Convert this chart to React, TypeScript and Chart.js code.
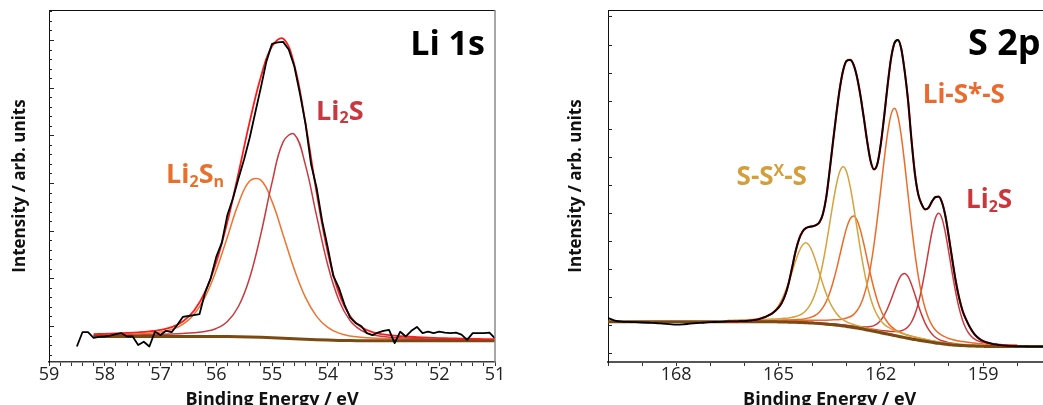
import React, { useEffect, useRef } from 'react';
import { Chart, registerables } from 'chart.js';

Chart.register(...registerables);

const FONT = "'Open Sans', 'DejaVu Sans', sans-serif";

// ---------------- Li 1s ----------------
const liRawEnergy = [
  58.5, 58.4, 58.3, 58.2, 58.1, 58.0, 57.9, 57.8, 57.7, 57.6,
  57.5, 57.4, 57.3, 57.2, 57.1, 57.0, 56.9, 56.8, 56.7, 56.6,
  56.5, 56.4, 56.3, 56.2, 56.1, 56.0, 55.9, 55.8, 55.7, 55.6,
  55.5, 55.4, 55.3, 55.2, 55.1, 55.0, 54.9, 54.8, 54.7, 54.6,
  54.5, 54.4, 54.3, 54.2, 54.1, 54.0, 53.9, 53.8, 53.7, 53.6,
  53.5, 53.4, 53.3, 53.2, 53.1, 53.0, 52.9, 52.8, 52.7, 52.6,
  52.5, 52.4, 52.3, 52.2, 52.1, 52.0, 51.9, 51.8, 51.7, 51.6,
  51.5, 51.4, 51.3, 51.2, 51.1, 51.0,
];
const liRaw = [
  -0.43, -0.13, -0.13, -0.25, -0.23, -0.22, -0.20, -0.17, -0.15, -0.22,
  -0.22, -0.40, -0.33, -0.43, -0.12, -0.19, -0.10, -0.13, 0.02, 0.19,
  0.21, 0.23, 0.25, 0.70, 1.00, 1.45, 1.75, 2.33, 2.68, 3.10,
  3.50, 3.95, 4.48, 5.00, 5.55, 5.92, 5.95, 5.96, 5.80, 5.45,
  4.88, 4.25, 3.40, 2.90, 2.20, 1.65, 1.05, 0.80, 0.45, 0.18,
  0.06, 0.00, -0.15, -0.19, -0.14, -0.10, -0.08, -0.36, -0.12, -0.22,
  -0.10, -0.02, -0.15, -0.12, -0.15, -0.12, -0.14, -0.15, -0.14, -0.18,
  -0.29, -0.15, -0.15, -0.15, -0.14, -0.26,
];
const liFitEnergy = [
  58.2, 58.0, 57.8, 57.6, 57.4, 57.2, 57.0, 56.8, 56.6, 56.4,
  56.2, 56.0, 55.8, 55.6, 55.4, 55.2, 55.0, 54.8, 54.6, 54.4,
  54.2, 54.0, 53.8, 53.6, 53.4, 53.2, 53.0, 52.8, 52.6, 52.4,
  52.2, 52.0, 51.8, 51.6, 51.4, 51.2, 51.0,
];
const liBackground = [
  -0.22, -0.22, -0.22, -0.22, -0.22, -0.22, -0.22, -0.22, -0.22, -0.22,
  -0.22, -0.22, -0.222, -0.225, -0.23, -0.237, -0.245, -0.255, -0.266, -0.278,
  -0.288, -0.296, -0.302, -0.306, -0.308, -0.31, -0.31, -0.31, -0.31, -0.31,
  -0.31, -0.31, -0.31, -0.31, -0.31, -0.31, -0.31,
];
const liEnvelope = [
  -0.170, -0.164, -0.156, -0.146, -0.133, -0.114, -0.082, -0.023, 0.095, 0.321,
  0.718, 1.337, 2.186, 3.212, 4.287, 5.226, 5.867, 6.028, 5.478, 4.254,
  2.800, 1.548, 0.692, 0.209, -0.023, -0.128, -0.176, -0.202, -0.220, -0.233,
  -0.244, -0.253, -0.259, -0.265, -0.270, -0.274, -0.278,
];
// component heights above the background
const liLi2S = [
  0.020, 0.022, 0.025, 0.028, 0.032, 0.037, 0.044, 0.052, 0.063, 0.079,
  0.107, 0.169, 0.317, 0.639, 1.244, 2.165, 3.252, 4.118, 4.290, 3.653,
  2.597, 1.577, 0.842, 0.418, 0.214, 0.126, 0.088, 0.068, 0.056, 0.047,
  0.040, 0.034, 0.030, 0.026, 0.023, 0.021, 0.018,
];
const liLi2Sn = [
  0.030, 0.034, 0.039, 0.046, 0.055, 0.069, 0.094, 0.145, 0.252, 0.462,
  0.831, 1.388, 2.091, 2.798, 3.273, 3.298, 2.860, 2.165, 1.454, 0.879,
  0.491, 0.267, 0.152, 0.097, 0.071, 0.056, 0.046, 0.040, 0.034, 0.030,
  0.026, 0.023, 0.021, 0.019, 0.017, 0.015, 0.014,
];

// ---------------- S 2p ----------------
const sEdgeHighEnergy = [170.0, 169.8, 169.6, 169.4, 169.2, 169.0, 168.8, 168.6, 168.4, 168.2, 168.0, 167.8, 167.6, 167.4, 167.2, 167.0, 166.8, 166.6];
const sEdgeHighRaw = [0.25, 0.16, 0.12, 0.11, 0.10, 0.09, 0.08, 0.07, 0.05, 0.03, 0.01, 0.02, 0.05, 0.07, 0.08, 0.10, 0.11, 0.12];
const sEdgeLowEnergy = [157.8, 157.6, 157.4, 157.2, 157.0];
const sEdgeLowRaw = [-0.765, -0.77, -0.77, -0.77, -0.77];
const sBgEdgeEnergy = [170.0, 157.0];
const sBgEdge = [0.12, -0.77];

const sFitEnergy = [
  166.5, 166.4, 166.3, 166.2, 166.1, 166.0, 165.9, 165.8, 165.7, 165.6,
  165.5, 165.4, 165.3, 165.2, 165.1, 165.0, 164.9, 164.8, 164.7, 164.6,
  164.5, 164.4, 164.3, 164.2, 164.1, 164.0, 163.9, 163.8, 163.7, 163.6,
  163.5, 163.4, 163.3, 163.2, 163.1, 163.0, 162.9, 162.8, 162.7, 162.6,
  162.5, 162.4, 162.3, 162.2, 162.1, 162.0, 161.9, 161.8, 161.7, 161.6,
  161.5, 161.4, 161.3, 161.2, 161.1, 161.0, 160.9, 160.8, 160.7, 160.6,
  160.5, 160.4, 160.3, 160.2, 160.1, 160.0, 159.9, 159.8, 159.7, 159.6,
  159.5, 159.4, 159.3, 159.2, 159.1, 159.0, 158.9, 158.8, 158.7, 158.6,
  158.5, 158.4, 158.3, 158.2, 158.1, 158.0,
];
// measured spectrum (the fit envelope lies on it)
const sRaw = [
  0.13, 0.13, 0.13, 0.13, 0.14, 0.14, 0.15, 0.16, 0.18, 0.20,
  0.24, 0.28, 0.34, 0.40, 0.50, 0.62, 0.80, 1.08, 1.50, 2.05,
  2.62, 3.05, 3.32, 3.45, 3.50, 3.52, 3.56, 3.66, 3.95, 4.55,
  5.50, 6.55, 7.55, 8.45, 9.10, 9.42, 9.45, 9.28, 8.85, 8.20,
  7.40, 6.55, 5.85, 5.55, 5.75, 6.45, 7.45, 8.55, 9.50, 10.05,
  10.16, 9.85, 9.05, 8.00, 6.60, 5.40, 4.65, 4.30, 4.12, 4.18,
  4.40, 4.56, 4.58, 4.35, 3.85, 3.10, 2.30, 1.55, 0.95, 0.50,
  0.20, -0.05, -0.25, -0.40, -0.50, -0.57, -0.62, -0.65, -0.68, -0.70,
  -0.72, -0.73, -0.74, -0.75, -0.755, -0.76,
];
const sBackground = [
  0.12, 0.12, 0.12, 0.12, 0.12, 0.12, 0.12, 0.12, 0.12, 0.12,
  0.12, 0.12, 0.12, 0.12, 0.115, 0.11, 0.11, 0.105, 0.10, 0.10,
  0.095, 0.09, 0.085, 0.08, 0.075, 0.07, 0.06, 0.05, 0.04, 0.03,
  0.02, 0.01, -0.005, -0.02, -0.035, -0.05, -0.07, -0.09, -0.11, -0.13,
  -0.15, -0.175, -0.20, -0.225, -0.25, -0.275, -0.30, -0.325, -0.35, -0.375,
  -0.40, -0.425, -0.45, -0.475, -0.50, -0.52, -0.54, -0.56, -0.58, -0.60,
  -0.62, -0.64, -0.655, -0.67, -0.685, -0.70, -0.71, -0.72, -0.73, -0.735,
  -0.74, -0.745, -0.75, -0.755, -0.76, -0.76, -0.765, -0.765, -0.77, -0.77,
  -0.77, -0.77, -0.77, -0.77, -0.77, -0.77,
];
// component peaks, heights above the background
const sSSxS_32 = [
  0.036, 0.038, 0.041, 0.043, 0.046, 0.049, 0.053, 0.057, 0.061, 0.066,
  0.071, 0.077, 0.083, 0.091, 0.100, 0.110, 0.122, 0.136, 0.153, 0.176,
  0.210, 0.255, 0.323, 0.431, 0.590, 0.823, 1.152, 1.595, 2.162, 2.838,
  3.587, 4.347, 5.022, 5.499, 5.675, 5.499, 5.022, 4.347, 3.587, 2.838,
  2.162, 1.595, 1.152, 0.823, 0.590, 0.431, 0.323, 0.255, 0.210, 0.176,
  0.153, 0.136, 0.122, 0.110, 0.100, 0.091, 0.083, 0.077, 0.071, 0.066,
  0.061, 0.057, 0.053, 0.049, 0.046, 0.043, 0.041, 0.038, 0.036, 0.034,
  0.032, 0.031, 0.029, 0.027, 0.026, 0.025, 0.024, 0.023, 0.022, 0.021,
  0.020, 0.019, 0.018, 0.018, 0.017, 0.016,
];
const sSSxS_12 = [
  0.039, 0.042, 0.046, 0.050, 0.055, 0.061, 0.068, 0.077, 0.088, 0.105,
  0.128, 0.162, 0.217, 0.296, 0.413, 0.579, 0.801, 1.086, 1.425, 1.801,
  2.183, 2.522, 2.762, 2.850, 2.762, 2.522, 2.183, 1.801, 1.425, 1.086,
  0.801, 0.579, 0.413, 0.296, 0.217, 0.162, 0.128, 0.105, 0.088, 0.077,
  0.068, 0.061, 0.055, 0.050, 0.046, 0.042, 0.039, 0.036, 0.033, 0.030,
  0.029, 0.027, 0.025, 0.023, 0.022, 0.021, 0.020, 0.019, 0.018, 0.017,
  0.016, 0.016, 0.015, 0.015, 0.014, 0.014, 0.013, 0.013, 0.012, 0.012,
  0.012, 0.011, 0.011, 0.011, 0.010, 0.010, 0.010, 0.010, 0.009, 0.009,
  0.009, 0.009, 0.008, 0.008, 0.008, 0.008,
];
const sLiSS_32 = [
  0.025, 0.026, 0.027, 0.028, 0.029, 0.031, 0.032, 0.034, 0.035, 0.037,
  0.039, 0.041, 0.044, 0.046, 0.049, 0.052, 0.054, 0.058, 0.062, 0.066,
  0.070, 0.075, 0.081, 0.087, 0.094, 0.101, 0.110, 0.119, 0.130, 0.143,
  0.157, 0.174, 0.194, 0.219, 0.251, 0.300, 0.365, 0.462, 0.616, 0.842,
  1.175, 1.644, 2.276, 3.086, 4.050, 5.119, 6.205, 7.169, 7.849, 8.100,
  7.849, 7.169, 6.205, 5.119, 4.050, 3.086, 2.276, 1.644, 1.175, 0.842,
  0.616, 0.462, 0.365, 0.300, 0.251, 0.219, 0.194, 0.174, 0.157, 0.143,
  0.130, 0.119, 0.110, 0.101, 0.094, 0.087, 0.081, 0.075, 0.070, 0.066,
  0.062, 0.058, 0.054, 0.052, 0.049, 0.046,
];
const sLiSS_12 = [
  0.022, 0.023, 0.024, 0.025, 0.027, 0.029, 0.030, 0.032, 0.035, 0.037,
  0.040, 0.043, 0.046, 0.050, 0.054, 0.059, 0.064, 0.070, 0.077, 0.086,
  0.096, 0.107, 0.123, 0.147, 0.179, 0.227, 0.302, 0.414, 0.577, 0.808,
  1.118, 1.516, 1.990, 2.515, 3.049, 3.522, 3.857, 3.980, 3.857, 3.522,
  3.049, 2.515, 1.990, 1.516, 1.118, 0.808, 0.577, 0.414, 0.302, 0.227,
  0.179, 0.147, 0.123, 0.107, 0.096, 0.086, 0.077, 0.070, 0.064, 0.059,
  0.054, 0.050, 0.046, 0.043, 0.040, 0.037, 0.035, 0.032, 0.030, 0.029,
  0.027, 0.025, 0.024, 0.023, 0.022, 0.020, 0.019, 0.019, 0.018, 0.017,
  0.016, 0.016, 0.015, 0.015, 0.014, 0.014,
];
const sLi2S_32 = [
  0.007, 0.007, 0.007, 0.007, 0.008, 0.008, 0.008, 0.009, 0.009, 0.009,
  0.010, 0.010, 0.010, 0.011, 0.011, 0.012, 0.012, 0.013, 0.013, 0.014,
  0.015, 0.015, 0.016, 0.017, 0.018, 0.018, 0.019, 0.021, 0.022, 0.023,
  0.024, 0.026, 0.028, 0.030, 0.032, 0.034, 0.037, 0.040, 0.043, 0.046,
  0.051, 0.056, 0.061, 0.068, 0.075, 0.083, 0.093, 0.107, 0.121, 0.144,
  0.171, 0.218, 0.292, 0.413, 0.607, 0.899, 1.312, 1.863, 2.526, 3.249,
  3.935, 4.445, 4.635, 4.445, 3.935, 3.249, 2.526, 1.863, 1.312, 0.899,
  0.607, 0.413, 0.292, 0.218, 0.171, 0.144, 0.121, 0.107, 0.093, 0.083,
  0.075, 0.068, 0.061, 0.056, 0.051, 0.046,
];
const sLi2S_12 = [
  0.005, 0.005, 0.005, 0.005, 0.006, 0.006, 0.006, 0.006, 0.007, 0.007,
  0.007, 0.007, 0.008, 0.008, 0.009, 0.009, 0.009, 0.010, 0.011, 0.011,
  0.012, 0.013, 0.014, 0.015, 0.016, 0.017, 0.018, 0.020, 0.021, 0.023,
  0.025, 0.027, 0.030, 0.034, 0.037, 0.041, 0.046, 0.053, 0.060, 0.071,
  0.085, 0.108, 0.144, 0.204, 0.300, 0.444, 0.648, 0.921, 1.248, 1.605,
  1.944, 2.196, 2.290, 2.196, 1.944, 1.605, 1.248, 0.921, 0.648, 0.444,
  0.300, 0.204, 0.144, 0.108, 0.085, 0.071, 0.060, 0.053, 0.046, 0.041,
  0.037, 0.034, 0.030, 0.027, 0.025, 0.023, 0.021, 0.020, 0.018, 0.017,
  0.016, 0.015, 0.014, 0.013, 0.012, 0.011,
];

// ---------------- helpers ----------------
const pts = (xs: number[], ys: number[]) => xs.map((x, i) => ({ x, y: ys[i] }));
const onBg = (comp: number[], bg: number[]) => comp.map((v, i) => v + bg[i]);

function line(label: string, data: any[], color: string, width: number, smooth: 'none' | 'monotone' | 'tension') {
  return {
    label,
    data,
    borderColor: color,
    backgroundColor: color,
    borderWidth: width,
    pointRadius: 0,
    fill: false,
    tension: smooth === 'tension' ? 0.4 : 0,
    cubicInterpolationMode: smooth === 'monotone' ? 'monotone' : 'default',
    borderJoinStyle: 'round',
  };
}

type Seg = { t: string; sub?: boolean; sup?: boolean };
type Lbl = { e: number; v: number; segs: Seg[]; size: number; color: string; right?: boolean };

const xpsPlugin = {
  id: 'xps',
  afterDraw(chart: any, _a: any, o: any) {
    const { ctx, chartArea: a, scales } = chart;
    const ys = scales.y;
    const xs = scales.x;
    ctx.save();
    // inward ticks on the intensity axis
    ctx.strokeStyle = '#222';
    ctx.lineWidth = 1;
    const k0 = Math.ceil(ys.min / o.minor - 1e-6);
    const k1 = Math.floor(ys.max / o.minor + 1e-6);
    for (let k = k0; k <= k1; k++) {
      const py = Math.round(ys.getPixelForValue(k * o.minor)) + 0.5;
      const len = k % o.per === 0 ? o.majorLen : o.minorLen;
      ctx.beginPath();
      ctx.moveTo(a.left, py);
      ctx.lineTo(a.left + len, py);
      ctx.stroke();
    }
    // frame: top and right
    ctx.strokeStyle = '#111';
    ctx.lineWidth = 1;
    ctx.beginPath();
    ctx.moveTo(a.left, a.top + 0.5);
    ctx.lineTo(a.right, a.top + 0.5);
    ctx.stroke();
    ctx.strokeStyle = o.rightColor;
    ctx.lineWidth = 1.5;
    ctx.beginPath();
    ctx.moveTo(a.right, a.top);
    ctx.lineTo(a.right, a.bottom);
    ctx.stroke();
    // peak labels
    (o.labels as Lbl[]).forEach((lb) => {
      const small = Math.round(lb.size * 0.6);
      const fonts = lb.segs.map((s) => `bold ${s.sub || s.sup ? small : lb.size}px ${FONT}`);
      const widths = lb.segs.map((s, i) => {
        ctx.font = fonts[i];
        return ctx.measureText(s.t).width;
      });
      const total = widths.reduce((p, q) => p + q, 0);
      let x = xs.getPixelForValue(lb.e);
      if (lb.right) x -= total;
      const y = ys.getPixelForValue(lb.v);
      ctx.fillStyle = lb.color;
      ctx.textAlign = 'left';
      ctx.textBaseline = 'alphabetic';
      lb.segs.forEach((s, i) => {
        ctx.font = fonts[i];
        const dy = s.sub ? lb.size * 0.13 : s.sup ? -lb.size * 0.34 : 0;
        ctx.fillText(s.t, x, y + dy);
        x += widths[i];
      });
    });
    ctx.restore();
  },
};

function xAxis(min: number, max: number, step: number, labelEvery: number, height: number, borderColor: string, borderWidth: number) {
  return {
    type: 'linear',
    reverse: true,
    min,
    max,
    afterFit: (s: any) => {
      s.height = height;
    },
    border: { display: true, color: borderColor, width: borderWidth },
    grid: { display: true, drawOnChartArea: false, drawTicks: true, tickLength: 4, color: '#333', lineWidth: 1 },
    ticks: {
      stepSize: step,
      autoSkip: false,
      maxRotation: 0,
      padding: -2,
      color: '#222',
      font: { family: FONT, size: 18 },
      callback: (v: any) => {
        const n = Number(v);
        const r = Math.round(n);
        return Math.abs(n - r) < 1e-6 && r % labelEvery === 0 ? String(r) : '';
      },
    },
    title: {
      display: true,
      text: 'Binding Energy / eV',
      color: '#111',
      font: { family: FONT, size: 18, weight: 'bold' },
      padding: { top: 0, bottom: 9 },
    },
  };
}

function yAxis(min: number, max: number, width: number, titlePad: number) {
  return {
    type: 'linear',
    min,
    max,
    afterFit: (s: any) => {
      s.width = width;
    },
    border: { display: true, color: '#111', width: 1 },
    grid: { display: false },
    ticks: { display: false },
    title: {
      display: true,
      text: 'Intensity / arb. units',
      color: '#111',
      font: { family: FONT, size: 17, weight: 'bold' },
      padding: { top: titlePad, bottom: 0 },
    },
  };
}

function useChart(ref: React.RefObject<HTMLCanvasElement>, build: () => any) {
  useEffect(() => {
    if (!ref.current) return;
    const chart = new Chart(ref.current, build());
    return () => chart.destroy();
  }, []);
}

const CANVAS_H = 420;

export default function App() {
  const leftRef = useRef<HTMLCanvasElement>(null);
  const rightRef = useRef<HTMLCanvasElement>(null);

  useChart(leftRef, () => ({
    type: 'line',
    data: {
      datasets: [
        line('Li 1s data', pts(liRawEnergy, liRaw), '#000000', 1.8, 'none'),
        line('Fit envelope', pts(liFitEnergy, liEnvelope), '#ff1a1a', 1.8, 'tension'),
        line('Background', pts(liFitEnergy, liBackground), '#7a4a14', 3, 'monotone'),
        line('Li2S', pts(liFitEnergy, onBg(liLi2S, liBackground)), '#c63a40', 1.5, 'tension'),
        line('Li2Sn', pts(liFitEnergy, onBg(liLi2Sn, liBackground)), '#ee7430', 1.5, 'tension'),
      ],
    },
    options: {
      responsive: false,
      maintainAspectRatio: false,
      animation: false,
      events: [],
      layout: { padding: { left: 0, top: 10, right: 25, bottom: 0 } },
      scales: {
        x: xAxis(51, 59, 0.2, 1, CANVAS_H - 362, '#3a3a3a', 1.5),
        y: yAxis(-0.755, 6.629, 49, 10),
      },
      plugins: {
        legend: { display: false },
        tooltip: { enabled: false },
        xps: {
          minor: 0.2,
          per: 5,
          majorLen: 5,
          minorLen: 3,
          rightColor: '#8a8a8a',
          labels: [
            { e: 51.18, v: 5.68, size: 34, color: '#000000', right: true, segs: [{ t: 'Li 1s' }] },
            { e: 54.21, v: 4.33, size: 27, color: '#c8383e', segs: [{ t: 'Li' }, { t: '2', sub: true }, { t: 'S' }] },
            { e: 56.9, v: 3.0, size: 27, color: '#e8702c', segs: [{ t: 'Li' }, { t: '2', sub: true }, { t: 'S' }, { t: 'n', sub: true }] },
          ],
        },
      },
    },
    plugins: [xpsPlugin],
  }));

  useChart(rightRef, () => ({
    type: 'line',
    data: {
      datasets: [
        line('S 2p data', pts([...sEdgeHighEnergy, ...sFitEnergy, ...sEdgeLowEnergy], [...sEdgeHighRaw, ...sRaw, ...sEdgeLowRaw]), '#000000', 1.8, 'monotone'),
        line('Fit envelope', pts(sFitEnergy, sRaw), '#ff1a1a', 2.2, 'monotone'),
        line('Background', pts([sBgEdgeEnergy[0], ...sFitEnergy, sBgEdgeEnergy[1]], [sBgEdge[0], ...sBackground, sBgEdge[1]]), '#7a4a14', 3, 'monotone'),
        line('S-Sx-S 2p3/2', pts(sFitEnergy, onBg(sSSxS_32, sBackground)), '#d6a23c', 1.5, 'monotone'),
        line('S-Sx-S 2p1/2', pts(sFitEnergy, onBg(sSSxS_12, sBackground)), '#d6a23c', 1.5, 'monotone'),
        line('Li-S*-S 2p3/2', pts(sFitEnergy, onBg(sLiSS_32, sBackground)), '#ee6a28', 1.5, 'monotone'),
        line('Li-S*-S 2p1/2', pts(sFitEnergy, onBg(sLiSS_12, sBackground)), '#ee6a28', 1.5, 'monotone'),
        line('Li2S 2p3/2', pts(sFitEnergy, onBg(sLi2S_32, sBackground)), '#cc3a40', 1.5, 'monotone'),
        line('Li2S 2p1/2', pts(sFitEnergy, onBg(sLi2S_12, sBackground)), '#cc3a40', 1.5, 'monotone'),
      ],
    },
    options: {
      responsive: false,
      maintainAspectRatio: false,
      animation: false,
      events: [],
      layout: { padding: { left: 0, top: 10, right: 28.7, bottom: 0 } },
      scales: {
        x: xAxis(157, 170, 1, 3, CANVAS_H - 362, '#555555', 2),
        y: yAxis(-1.319, 11.23, 88, 46),
      },
      plugins: {
        legend: { display: false },
        tooltip: { enabled: false },
        xps: {
          minor: 1,
          per: 1,
          majorLen: 4,
          minorLen: 4,
          rightColor: '#8a8a8a',
          labels: [
            { e: 159.44, v: 9.63, size: 36, color: '#000000', segs: [{ t: 'S 2p' }] },
            { e: 160.77, v: 7.9, size: 26, color: '#ec6a2c', segs: [{ t: 'Li-S*-S' }] },
            { e: 166.23, v: 4.99, size: 26, color: '#d49e3a', segs: [{ t: 'S-S' }, { t: 'X', sup: true }, { t: '-S' }] },
            { e: 159.5, v: 4.16, size: 26, color: '#cc3539', segs: [{ t: 'Li' }, { t: '2', sub: true }, { t: 'S' }] },
          ],
        },
      },
    },
    plugins: [xpsPlugin],
  }));

  return (
    <div style={{ position: 'fixed', left: 0, top: 0, width: 1043, height: 405, overflow: 'hidden', background: '#ffffff' }}>
      <canvas ref={leftRef} width={520} height={CANVAS_H} style={{ position: 'absolute', left: 0, top: 0, width: 520, height: CANVAS_H }} />
      <canvas ref={rightRef} width={560} height={CANVAS_H} style={{ position: 'absolute', left: 520, top: 0, width: 560, height: CANVAS_H }} />
    </div>
  );
}
